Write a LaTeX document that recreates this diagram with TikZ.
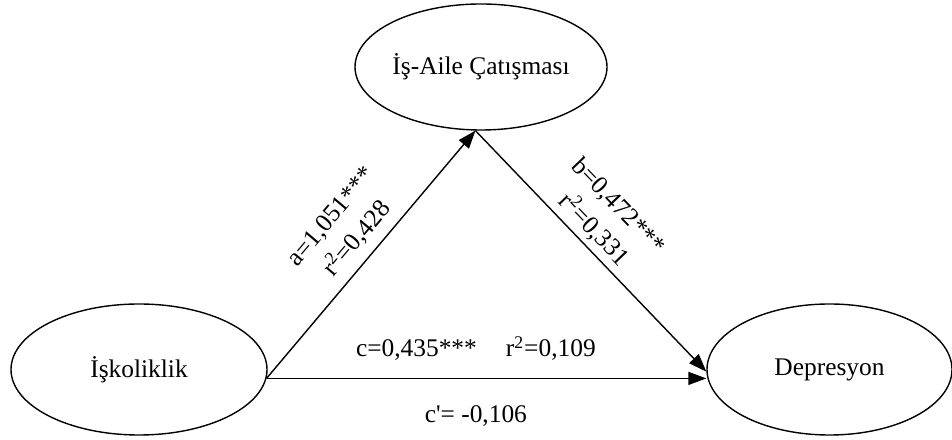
\documentclass[tikz,border=0pt]{standalone}
\usepackage{fontspec}
\setmainfont{Liberation Serif}
\usetikzlibrary{arrows.meta,shapes.geometric}
\begin{document}
\begin{tikzpicture}[x=0.5bp,y=-0.5bp,
  every node/.style={font=\fontsize{12.75}{17}\selectfont},
  var/.style={draw,ellipse,line width=0.7bp,inner sep=0pt},
  link/.style={line width=0.7bp,-{Triangle[length=9bp,width=6.5bp]}},
  lab/.style={inner sep=0pt,align=center}]
\useasboundingbox (0,0) rectangle (952,440);
\node[var,minimum width=128bp,minimum height=65.5bp] (L) at (139,369.5) {İşkoliklik};
\node[var,minimum width=126bp,minimum height=63bp] (T) at (481,67) {İş-Aile Çatışması};
\node[var,minimum width=122.5bp,minimum height=65.5bp] (R) at (829.5,369.5) {Depresyon};
\coordinate (s) at (L.-4);
\coordinate (e) at (s -| R.west);
\draw[link] (s) -- node[lab,sloped,pos=0.51,above=4.5bp] {a=1,051***\\r\textsuperscript{2}=0,428} (T.265);
\draw[link] (T.265) -- node[lab,sloped,pos=0.46,above=2.5bp] {b=0,472***\\r\textsuperscript{2}=0,331} (R.181);
\draw[link] (s) -- node[lab,pos=0.476,above=8.5bp] {c=0,435***\hspace{14.5bp}r\textsuperscript{2}=0,109}
  node[lab,pos=0.476,below=13bp] {c\textquotesingle= -0,106} (e);
\end{tikzpicture}
\end{document}
